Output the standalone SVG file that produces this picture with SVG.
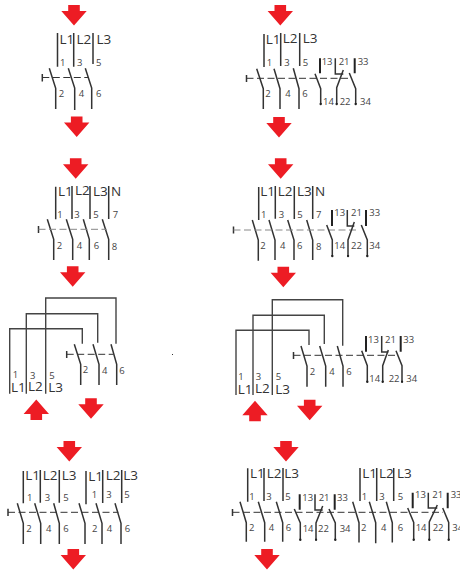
<svg xmlns="http://www.w3.org/2000/svg" xmlns:xlink="http://www.w3.org/1999/xlink" width="460" height="573" viewBox="0 0 460 573">
<style>
text{font-family:"Open Sans","Liberation Sans",sans-serif;fill:#333}
.L{font-size:13.5px}
.n{font-size:9.5px;fill:#444}
path,line{fill:none;stroke:#333;stroke-width:1.5}
.t{stroke-width:2;stroke:#222}
.d{stroke:#333;stroke-width:1;stroke-dasharray:7 3.5}
.g{stroke:#888;stroke-width:1;stroke-dasharray:7 3.5}
.w{stroke:#444;stroke-width:1.4}
.e{marker-end:url(#dot)}
.arrow{fill:#ed1c24;stroke:none}
</style>
<defs>
<marker id="dot" markerUnits="userSpaceOnUse" markerWidth="3" markerHeight="3" refX="1.5" refY="1.5"><circle cx="1.5" cy="1.5" r="1.2" fill="#222"/></marker>
<path id="dn" class="arrow" d="M-5.8 0H5.8V6H12.7L0 20.5L-12.7 6H-5.8Z"/>
<path id="up" class="arrow" d="M-5.8 20.5H5.8V14.5H12.7L0 0L-12.7 14.5H-5.8Z"/>
</defs>

<g id="panel1">
<use href="#dn" x="74" y="5"/><use href="#dn" x="76.7" y="116.5"/>
<path d="M57.5 33V66.7M73.7 33V66.7M93 33V64M49.3 68.3L55.7 88.3V109M68.3 68.3L74.7 88V110M85.3 68.3L91.7 88V109M42.3 74V81.5"/>
<line class="d" x1="42.3" y1="77.5" x2="88" y2="77.5"/>
<text class="L" x="59.5" y="43.5">L1</text><text class="L" x="76.5" y="43.5">L2</text><text class="L" x="96.5" y="43.5">L3</text>
<text class="n" x="60" y="65.5">1</text><text class="n" x="77" y="65.5">3</text><text class="n" x="96" y="66">5</text>
<text class="n" x="58.7" y="97">2</text><text class="n" x="78.7" y="97">4</text><text class="n" x="96" y="97">6</text>
</g>

<g id="panel2">
<use href="#dn" x="280.3" y="5"/><use href="#dn" x="279" y="117"/>
<path d="M264 34V67M280.7 33V66M299.7 33V66M256.7 68.7L263.3 88.7V109M274 68.7L280 88.7V109M293.3 68.3L299 88.7V109M246.5 75V82"/>
<line class="d" x1="246.5" y1="78.3" x2="349.3" y2="78.3"/>
<path class="t" d="M320 58.3V73.3M354.7 58.3V73.3"/>
<path d="M335.3 58.3V74H343.3"/>
<path class="e" d="M315 73.7L320.7 88.7V104"/><path class="e" d="M343.3 70L336.7 87.7V104"/><path class="e" d="M349.3 73L355.7 88.7V104"/>
<text class="L" x="265.7" y="43.7">L1</text><text class="L" x="282.7" y="43">L2</text><text class="L" x="302.7" y="43">L3</text>
<text class="n" x="266.7" y="66">1</text><text class="n" x="284.3" y="66">3</text><text class="n" x="302.7" y="66">5</text>
<text class="n" x="265.3" y="97">2</text><text class="n" x="285.3" y="97">4</text><text class="n" x="302.3" y="97">6</text>
<text class="n" x="321.7" y="64.5">13</text><text class="n" x="338.7" y="64.5">21</text><text class="n" x="357.7" y="64.5">33</text>
<text class="n" x="323" y="105">14</text><text class="n" x="339.7" y="105">22</text><text class="n" x="360" y="105">34</text>
</g>

<g id="panel3">
<use href="#dn" x="75.7" y="158.3"/><use href="#dn" x="72.7" y="266.3"/>
<path d="M55.7 186.7V219.3M72 186V219M90 186V219M108.7 186V219M47.3 219.3L53.7 239.3V260M66.3 219.3L72.7 239.3V260M83.3 219.3L89.3 239.3V260M102.3 219.3L108.7 239.3V260M38.5 226V233"/>
<line class="g" x1="38.5" y1="229.3" x2="106.7" y2="229.3"/>
<text class="L" x="58" y="196">L1</text><text class="L" x="75" y="194.7">L2</text><text class="L" x="93" y="196">L3</text><text class="L" x="111" y="196">N</text>
<text class="n" x="57.3" y="218">1</text><text class="n" x="74.3" y="218">3</text><text class="n" x="93.3" y="218">5</text><text class="n" x="112.7" y="218">7</text>
<text class="n" x="56.7" y="249">2</text><text class="n" x="76.7" y="249">4</text><text class="n" x="93.7" y="249">6</text><text class="n" x="111.7" y="249.5">8</text>
</g>

<g id="panel4">
<use href="#dn" x="280.7" y="158.3"/><use href="#dn" x="283.3" y="266.7"/>
<path d="M258.7 187V220M275.3 186V218.7M294.3 186V219M312.7 186V219M252.3 220L258.3 240V260.7M269 220L275 240V260M287.7 220L294 240V260M306.7 220L312.7 240V260M233.5 226.5V233.5"/>
<line class="g" x1="233.5" y1="230" x2="358.3" y2="230"/>
<path class="t" d="M332 210V226M366 210V226"/>
<path d="M347.3 210V226H354.3"/>
<path class="e" d="M326.7 225L332.3 240V256"/><path class="e" d="M354.3 222L348 240V256"/><path class="e" d="M361.3 225L367.3 240V256"/>
<text class="L" x="260.3" y="196">L1</text><text class="L" x="277.7" y="196">L2</text><text class="L" x="297" y="196">L3</text><text class="L" x="315" y="196">N</text>
<text class="n" x="261" y="218">1</text><text class="n" x="278.7" y="218">3</text><text class="n" x="297.3" y="218">5</text><text class="n" x="316" y="218">7</text>
<text class="n" x="260.3" y="249.3">2</text><text class="n" x="280" y="249.3">4</text><text class="n" x="297" y="249.3">6</text><text class="n" x="316" y="250">8</text>
<text class="n" x="334.3" y="216">13</text><text class="n" x="351" y="216">21</text><text class="n" x="369.3" y="216">33</text>
<text class="n" x="334.3" y="248.5">14</text><text class="n" x="351" y="248.5">22</text><text class="n" x="369.3" y="248.5">34</text>
</g>

<g id="panel5">
<use href="#up" x="36.3" y="399.5"/><use href="#dn" x="91" y="398.3"/>
<path class="w" d="M9.7 393.7V328.7H82.3V343.7M26.3 393.7V313.7H97.7V342.7M45.7 393.7V298H116V343.7"/>
<path d="M74.3 344.3L80.7 364.3V385M93 344.3L99 364.3V385M111 344.3L116.7 364.3V385M66.7 351V358"/>
<line class="d" x1="66.7" y1="354.3" x2="113.3" y2="354.3"/>
<text class="L" x="11" y="391.7">L1</text><text class="L" x="28" y="390.7">L2</text><text class="L" x="48.3" y="392">L3</text>
<text class="n" x="12.7" y="377.7">1</text><text class="n" x="30" y="378.7">3</text><text class="n" x="49.3" y="378.7">5</text>
<text class="n" x="82.7" y="373.3">2</text><text class="n" x="102" y="374">4</text><text class="n" x="119.3" y="374">6</text>
<rect x="172" y="354" width="1" height="1" fill="#333"/>
</g>

<g id="panel6">
<use href="#up" x="255" y="400.7"/><use href="#dn" x="309.7" y="399.7"/>
<path class="w" d="M236 395V330.3H309V345M253 395V315.3H324.3V344M272.3 395V299.7H342.7V345.7"/>
<path d="M301 346L307 366V386.7M319.7 346L325.7 366V386.7M337.3 346L343 366V386.7M293.5 352V359"/>
<line class="d" x1="293.5" y1="355.3" x2="398.3" y2="355.3"/>
<path class="t" d="M366 336V351.7M400.7 336V351.7"/>
<path d="M381.7 336V352H388.3"/>
<path class="e" d="M361.7 350.7L367.3 365.7V381.7"/><path class="e" d="M388.3 350L382.7 365.7V381.7"/><path class="e" d="M396 350.7L402 365.7V381.7"/>
<text class="L" x="237.7" y="394.3">L1</text><text class="L" x="255" y="393.3">L2</text><text class="L" x="275.3" y="394">L3</text>
<text class="n" x="238.3" y="379.7">1</text><text class="n" x="255.7" y="379.7">3</text><text class="n" x="275.7" y="379.7">5</text>
<text class="n" x="309.7" y="375">2</text><text class="n" x="329.3" y="375">4</text><text class="n" x="346.3" y="375">6</text>
<text class="n" x="368" y="342.5">13</text><text class="n" x="385" y="342.5">21</text><text class="n" x="403.3" y="342.5">33</text>
<text class="n" x="369.3" y="382">14</text><text class="n" x="388.7" y="382">22</text><text class="n" x="406.3" y="382">34</text>
</g>

<g id="panel7">
<use href="#dn" x="69.3" y="441"/><use href="#dn" x="73.3" y="549"/>
<path d="M23.3 471V503.3M40.3 470V502.7M59.3 470V502.7M86 471V504.3M102.7 470V503M121.7 470V503M17.3 503.3L23.3 523.3V544M34.7 503.3L40.7 523.3V544M53.7 503.3L59.3 523.3V544M79 503.3L85 523.3V544M96 503.3L102 523.3V544M115 503.3L121 523.3V544M8 508.8V516"/>
<line class="d" x1="8" y1="512.3" x2="118.3" y2="512.3"/>
<text class="L" x="25.3" y="479.7">L1</text><text class="L" x="42.7" y="479.7">L2</text><text class="L" x="61.7" y="479.7">L3</text><text class="L" x="88.3" y="481">L1</text><text class="L" x="105.7" y="479.7">L2</text><text class="L" x="123.3" y="479.7">L3</text>
<text class="n" x="27" y="500.7">1</text><text class="n" x="44.7" y="500.7">3</text><text class="n" x="63.3" y="500.7">5</text><text class="n" x="91.7" y="497.7">1</text><text class="n" x="106.3" y="497.7">3</text><text class="n" x="124.3" y="498">5</text>
<text class="n" x="26.3" y="532">2</text><text class="n" x="46" y="532">4</text><text class="n" x="63.3" y="532">6</text><text class="n" x="92" y="532">2</text><text class="n" x="106.7" y="532">4</text><text class="n" x="124.7" y="532">6</text>
</g>

<g id="panel8">
<use href="#dn" x="286" y="441"/><use href="#dn" x="267" y="549"/>
<path d="M247.7 468.3V501.7M264 468V501M283 468V501M360 468V501M376.7 468V501M393.7 468V501M240 501.7L246.3 522.7V541.7M258.3 501.7L264.7 522.7V541.7M276.3 501.7L282.7 522.7V541.7M352.7 501.7L359 522.7V542.5M369.3 501.7L375.7 522.7V543.3M386.3 501.7L392.3 522.7V542.5M232.5 509V516"/>
<line class="d" x1="232.5" y1="512.3" x2="443" y2="512.3"/>
<path class="t" d="M299.7 494.3V509.7M334.7 494.3V509.7M412.7 492.7V508.3M447.7 492.7V508.3"/>
<path d="M315 494.3V510H322.7M428.3 492.7V508H437.3"/>
<path class="e" d="M294.3 509L300.3 523V539.7"/><path class="e" d="M322.7 506L316 523V539.7"/><path class="e" d="M329 509L335.3 523V539.7"/>
<path class="e" d="M407.7 508L413.7 522.5V539.7"/><path class="e" d="M437.3 505L429.3 522V539.7"/><path class="e" d="M442.7 508L448.7 522.5V539.7"/>
<text class="L" x="250" y="478">L1</text><text class="L" x="266.7" y="478">L2</text><text class="L" x="284.3" y="478">L3</text><text class="L" x="362.3" y="478">L1</text><text class="L" x="379" y="478">L2</text><text class="L" x="397" y="478">L3</text>
<text class="n" x="249.3" y="499.7">1</text><text class="n" x="266.3" y="499.7">3</text><text class="n" x="285.3" y="499.7">5</text><text class="n" x="361.7" y="499.7">1</text><text class="n" x="379.3" y="499.7">3</text><text class="n" x="397.7" y="499.7">5</text>
<text class="n" x="249" y="531">2</text><text class="n" x="268.7" y="531">4</text><text class="n" x="285.7" y="531">6</text><text class="n" x="361" y="531">2</text><text class="n" x="381" y="531">4</text><text class="n" x="397.7" y="531">6</text>
<text class="n" x="302.3" y="501">13</text><text class="n" x="318.7" y="500.5">21</text><text class="n" x="337" y="501">33</text>
<text class="n" x="415" y="497.7">13</text><text class="n" x="432.3" y="497.7">21</text><text class="n" x="450.7" y="497.7">33</text>
<text class="n" x="302.7" y="532">14</text><text class="n" x="318" y="532">22</text><text class="n" x="339.7" y="532">34</text>
<text class="n" x="415.7" y="531">14</text><text class="n" x="432.7" y="531">22</text><text class="n" x="452.3" y="531">34</text>
</g>
</svg>
